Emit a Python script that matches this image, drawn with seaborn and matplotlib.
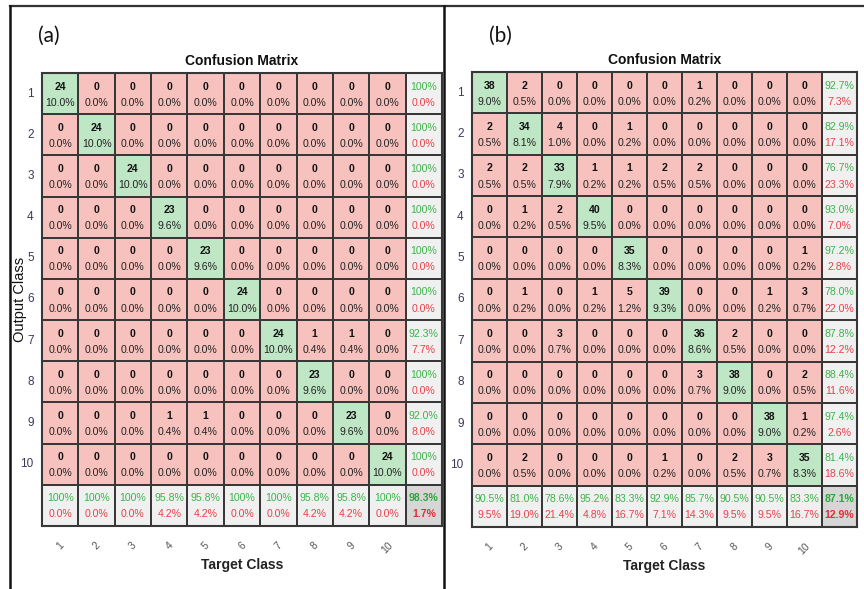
import numpy as np
import matplotlib
matplotlib.use("Agg")
import matplotlib.pyplot as plt
from matplotlib.colors import ListedColormap
from matplotlib.lines import Line2D
import seaborn as sns

# ---------------- data ----------------
classes = ["1", "2", "3", "4", "5", "6", "7", "8", "9", "10"]

# rows = Output Class, columns = Target Class
counts_a = [
    [24, 0, 0, 0, 0, 0, 0, 0, 0, 0],
    [0, 24, 0, 0, 0, 0, 0, 0, 0, 0],
    [0, 0, 24, 0, 0, 0, 0, 0, 0, 0],
    [0, 0, 0, 23, 0, 0, 0, 0, 0, 0],
    [0, 0, 0, 0, 23, 0, 0, 0, 0, 0],
    [0, 0, 0, 0, 0, 24, 0, 0, 0, 0],
    [0, 0, 0, 0, 0, 0, 24, 1, 1, 0],
    [0, 0, 0, 0, 0, 0, 0, 23, 0, 0],
    [0, 0, 0, 1, 1, 0, 0, 0, 23, 0],
    [0, 0, 0, 0, 0, 0, 0, 0, 0, 24],
]

counts_b = [
    [38, 2, 0, 0, 0, 0, 1, 0, 0, 0],
    [2, 34, 4, 0, 1, 0, 0, 0, 0, 0],
    [2, 2, 33, 1, 1, 2, 2, 0, 0, 0],
    [0, 1, 2, 40, 0, 0, 0, 0, 0, 0],
    [0, 0, 0, 0, 35, 0, 0, 0, 0, 1],
    [0, 1, 0, 1, 5, 39, 0, 0, 1, 3],
    [0, 0, 3, 0, 0, 0, 36, 2, 0, 0],
    [0, 0, 0, 0, 0, 0, 3, 38, 0, 2],
    [0, 0, 0, 0, 0, 0, 0, 0, 38, 1],
    [0, 2, 0, 0, 0, 1, 0, 2, 3, 35],
]

panel_labels = ["(a)", "(b)"]
title_text = "Confusion Matrix"
xlabel_text = "Target Class"
ylabel_text = "Output Class"

# ---------------- style ----------------
W, H = 864, 589
DPI = 100
C_PINK = "#f7c2be"
C_GREEN = "#bfe6c5"
C_GRAY = "#f0f0f0"
C_CORNER = "#d6d6d6"
T_GREEN = "#3cb44b"
T_RED = "#e8414a"
T_GREEN_B = "#27a83a"
T_RED_B = "#e32d38"
FONT = ["Liberation Sans", "DejaVu Sans"]

plt.rcParams["font.family"] = FONT
fig = plt.figure(figsize=(W / DPI, H / DPI), dpi=DPI)
fig.patch.set_facecolor("white")


def fmt_pct(v):
    if abs(v - 100) < 1e-9:
        return "100%"
    return f"{v:.1f}%"


def px_axes(l, t, r, b):
    return fig.add_axes([l / W, 1 - b / H, (r - l) / W, (b - t) / H])


def draw_cm(ax, counts, show_ylabel, left_px, right_px):
    cm = np.array(counts, dtype=float)
    n = cm.shape[0]
    total = cm.sum()
    diag = np.diag(cm)
    row_acc = diag / cm.sum(axis=1) * 100
    col_acc = diag / cm.sum(axis=0) * 100
    overall = diag.sum() / total * 100

    code = np.zeros((n + 1, n + 1))
    for i in range(n):
        code[i, i] = 1
    code[n, :] = 2
    code[:, n] = 2
    code[n, n] = 3
    cmap = ListedColormap([C_PINK, C_GREEN, C_GRAY, C_CORNER])
    sns.heatmap(code, ax=ax, cmap=cmap, vmin=-0.5, vmax=3.5, cbar=False,
                linewidths=1.4, linecolor="#383838", square=False)

    fs = 7.6
    for i in range(n):
        for j in range(n):
            ax.text(j + 0.5, i + 0.33, f"{int(cm[i, j])}", ha="center", va="center",
                    fontsize=fs, fontweight="bold", color="#111111")
            ax.text(j + 0.5, i + 0.72, f"{cm[i, j] / total * 100:.1f}%", ha="center",
                    va="center", fontsize=fs, color="#222222")
    for i in range(n):
        ax.text(n + 0.5, i + 0.33, fmt_pct(row_acc[i]), ha="center", va="center",
                fontsize=fs, color=T_GREEN)
        ax.text(n + 0.5, i + 0.72, fmt_pct(100 - row_acc[i]), ha="center", va="center",
                fontsize=fs, color=T_RED)
    for j in range(n):
        ax.text(j + 0.5, n + 0.33, fmt_pct(col_acc[j]), ha="center", va="center",
                fontsize=fs, color=T_GREEN)
        ax.text(j + 0.5, n + 0.72, fmt_pct(100 - col_acc[j]), ha="center", va="center",
                fontsize=fs, color=T_RED)
    ax.text(n + 0.5, n + 0.33, fmt_pct(overall), ha="center", va="center",
            fontsize=fs, fontweight="bold", color=T_GREEN_B)
    ax.text(n + 0.5, n + 0.72, fmt_pct(100 - overall), ha="center", va="center",
            fontsize=fs, fontweight="bold", color=T_RED_B)

    ax.set_xticks(np.arange(n) + 0.5)
    ax.set_xticklabels(classes, rotation=45, fontsize=7.5, color="#555555",
                       ha="center", va="top")
    ax.set_yticks(np.arange(n) + 0.5)
    ax.set_yticklabels(classes, rotation=0, fontsize=8.5, color="#3a3a55")
    ax.tick_params(length=0, pad=6)
    ax.tick_params(axis="x", pad=10)
    ax.set_xlabel(xlabel_text, fontsize=10, fontweight="bold", color="#222222",
                  labelpad=2)
    if show_ylabel:
        ax.set_ylabel(ylabel_text, fontsize=10.5, color="#111111")
        width_px = right_px - left_px
        ax.yaxis.set_label_coords((27 - left_px) / width_px, 0.5)
    else:
        ax.set_ylabel("")
    ax.set_title(title_text, fontsize=10, fontweight="bold", color="#111111", pad=6)
    for s in ax.spines.values():
        s.set_visible(True)
        s.set_color("#383838")
        s.set_linewidth(1.5)


ax_a = px_axes(42, 73, 442, 526)
draw_cm(ax_a, counts_a, True, 42, 442)
ax_b = px_axes(472, 72, 857, 527)
draw_cm(ax_b, counts_b, False, 472, 857)

# panel labels
fig.text(49 / W, 1 - 36 / H, panel_labels[0], ha="center", va="center",
         fontsize=15, family=["Lato", "DejaVu Sans"], color="#111111")
fig.text(500 / W, 1 - 36 / H, panel_labels[1], ha="center", va="center",
         fontsize=15, family=["Lato", "DejaVu Sans"], color="#111111")

# outer frame lines
fig.add_artist(Line2D([10 / W, 1.0], [1 - 6 / H, 1 - 6 / H], color="#333333", lw=1.6))
fig.add_artist(Line2D([10 / W, 10 / W], [0, 1 - 6 / H], color="#111111", lw=1.8))
fig.add_artist(Line2D([443.5 / W, 443.5 / W], [0, 1 - 6 / H], color="#111111", lw=1.8))

fig.savefig("out.png", dpi=DPI, facecolor="white")
